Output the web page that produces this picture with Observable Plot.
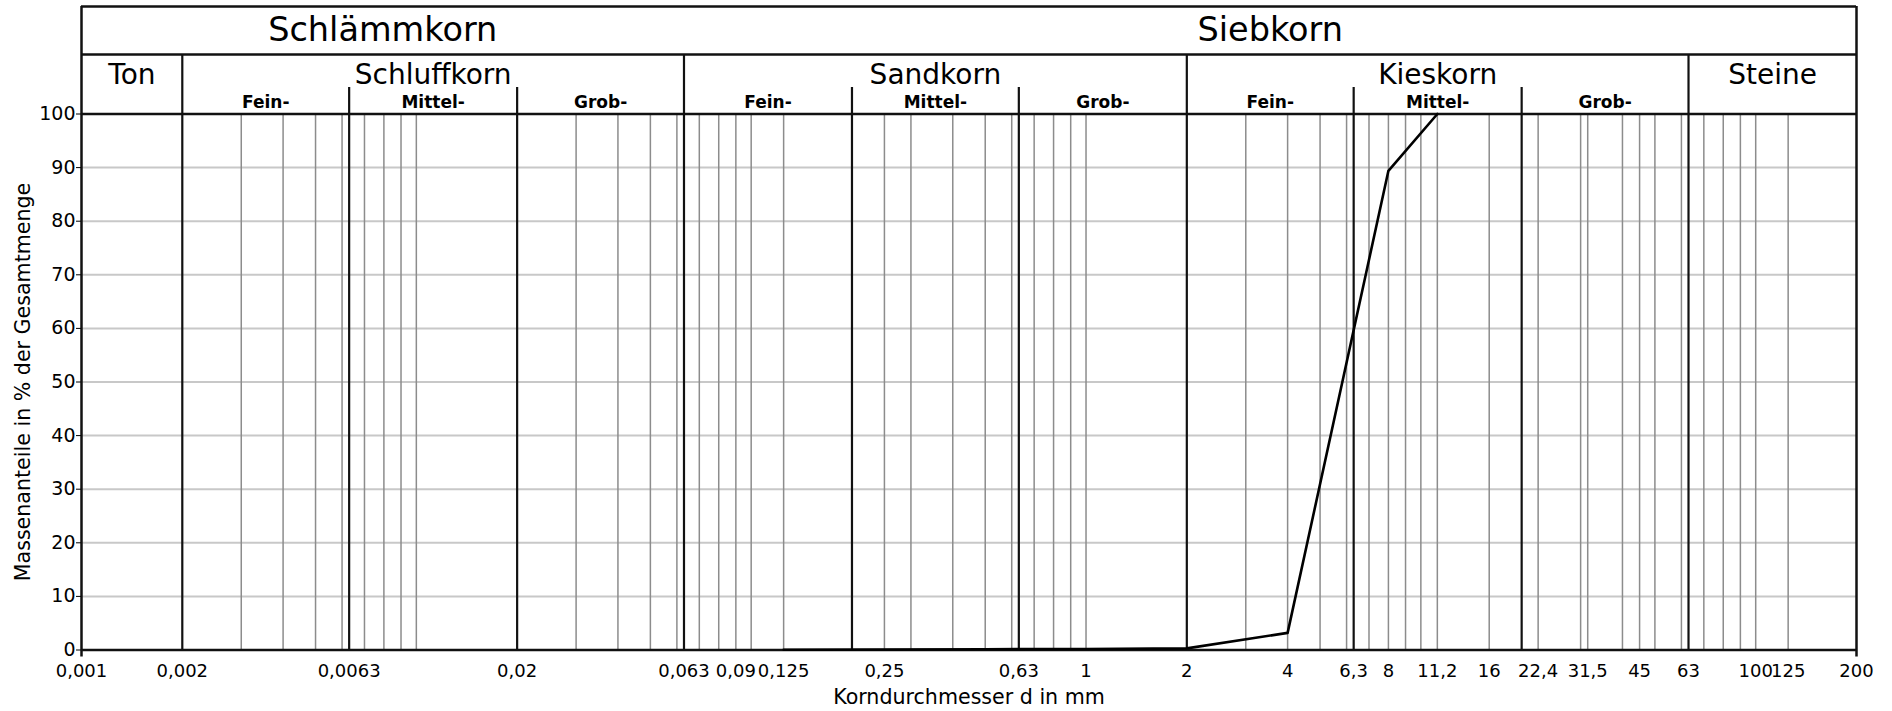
<!DOCTYPE html>
<html>
<head>
<meta charset="utf-8">
<script src="https://cdn.jsdelivr.net/npm/d3@7"></script>
<script src="https://cdn.jsdelivr.net/npm/@observablehq/plot@0.6"></script>
<style>
  html, body { margin: 0; padding: 0; background: #fff; }
  svg { display: block; }
</style>
</head>
<body>
<div id="chart"></div>
<script>
// ---------- data ----------
// Sieve curve (Korndurchmesser in mm -> Massenanteil in %)
const curveSizes   = [0.125, 0.25, 0.5, 1, 2, 4, 8, 11.2];
const curvePassing = [0.05, 0.1, 0.15, 0.2, 0.3, 3.2, 89.4, 100];

// x tick values and their labels
const xTickValues = [0.001, 0.002, 0.0063, 0.02, 0.063, 0.09, 0.125, 0.25, 0.63, 1, 2, 4, 6.3, 8, 11.2, 16, 22.4, 31.5, 45, 63, 100, 125, 200];
const xTickLabels = ["0,001", "0,002", "0,0063", "0,02", "0,063", "0,09", "0,125", "0,25", "0,63", "1", "2", "4", "6,3", "8", "11,2", "16", "22,4", "31,5", "45", "63", "100", "125", "200"];

// y ticks
const yTickValues = [0, 10, 20, 30, 40, 50, 60, 70, 80, 90, 100];

// thin grey sieve lines
const sieveLines = [0.003, 0.004, 0.005, 0.006, 0.007, 0.008, 0.009, 0.01, 0.03, 0.04, 0.05, 0.06,
  0.07, 0.08, 0.09, 0.1, 0.125, 0.25, 0.3, 0.4, 0.5, 0.6, 0.7, 0.8, 0.9, 1,
  3, 4, 5, 6, 7, 8, 9, 10, 11.2, 16, 22.4, 30, 31.5, 40, 45, 50, 60, 70, 80, 90, 100, 125];

// header: groups, classes, sub classes
const groupNames = ["Schlämmkorn", "Siebkorn"];
const groupFrom  = [0.001, 0.063];
const groupTo    = [0.063, 200];

const classNames = ["Ton", "Schluffkorn", "Sandkorn", "Kieskorn", "Steine"];
const classFrom  = [0.001, 0.002, 0.063, 2, 63];
const classTo    = [0.002, 0.063, 2, 63, 200];

const subNames = ["Fein-", "Mittel-", "Grob-", "Fein-", "Mittel-", "Grob-", "Fein-", "Mittel-", "Grob-"];
const subFrom  = [0.002, 0.0063, 0.02, 0.063, 0.2, 0.63, 2, 6.3, 20];
const subTo    = [0.0063, 0.02, 0.063, 0.2, 0.63, 2, 6.3, 20, 63];

const xLabel = "Korndurchmesser d in mm";
const yLabel = "Massenanteile in % der Gesamtmenge";

// ---------- layout (in y-scale units above 100 for the header) ----------
const HEADER_TOP = 120.06;
const HEADER_DIV = 111.1;
const SUB_TOP    = 104.94;
const GROUP_Y    = 115.6;
const CLASS_BASE = 105.6;
const SUB_BASE   = 101.1;
const EDGE_LOW   = -1.3;

const FONT = "DejaVu Sans, Verdana, sans-serif";

const curve = curveSizes.map((s, i) => ({x: s, y: curvePassing[i]}));
const groups = groupNames.map((n, i) => ({name: n, x: Math.sqrt(groupFrom[i] * groupTo[i])}));
const classes = classNames.map((n, i) => ({name: n, x: Math.sqrt(classFrom[i] * classTo[i])}));
const subs = subNames.map((n, i) => ({name: n, x: Math.sqrt(subFrom[i] * subTo[i])}));
const xTicks = xTickValues.map((v, i) => ({x: v, label: xTickLabels[i]}));
const frameEdges = [classFrom[0], classTo[classTo.length - 1]];
const classBounds = classFrom.slice(1);
const subBounds = subFrom.filter(v => !classFrom.includes(v));
const xMin = frameEdges[0], xMax = frameEdges[1];

const chart = Plot.plot({
  width: 1892,
  height: 711,
  marginLeft: 81,
  marginRight: 36,
  marginTop: 113.5,
  marginBottom: 61.5,
  style: {fontFamily: FONT, background: "#fff", color: "#000"},
  x: {type: "log", domain: [xMin, xMax], axis: null},
  y: {domain: [0, 100]},
  marks: [
    // horizontal grid
    Plot.ruleY(yTickValues.filter(v => v > 0 && v < 100), {x1: xMin, x2: xMax, stroke: "#c8c8c8", strokeWidth: 2}),
    // grey sieve lines
    Plot.ruleX(sieveLines, {y1: 0, y2: 100, stroke: "#8c8c8c", strokeWidth: 1.5}),
    // sub class boundaries
    Plot.ruleX(subBounds, {y1: 0, y2: SUB_TOP, stroke: "#111", strokeWidth: 2.2}),
    // class boundaries
    Plot.ruleX(classBounds, {y1: 0, y2: HEADER_DIV, stroke: "#111", strokeWidth: 2.2}),
    // frame edges
    Plot.ruleX(frameEdges, {y1: EDGE_LOW, y2: HEADER_TOP, stroke: "#111", strokeWidth: 2.5}),
    // horizontal frame lines
    Plot.ruleY([0, 100, HEADER_DIV, HEADER_TOP], {x1: xMin, x2: xMax, stroke: "#111", strokeWidth: 2.5}),
    // x tick labels
    Plot.text(xTicks, {x: "x", text: "label", frameAnchor: "bottom", dy: 21, fontSize: 18, lineAnchor: "middle", textAnchor: "middle"}),
    // y axis
    Plot.axisY({ticks: yTickValues, tickSize: 5, tickPadding: 1, fontSize: 19, label: null}),
    Plot.text([xLabel], {frameAnchor: "bottom", text: d => d, dy: 47, fontSize: 20.6, lineAnchor: "middle", textAnchor: "middle"}),
    Plot.text([yLabel], {frameAnchor: "left", text: d => d, rotate: -90, dx: -58, fontSize: 20.6, lineAnchor: "middle", textAnchor: "middle"}),
    // header texts
    Plot.text(groups, {x: "x", y: GROUP_Y, text: "name", fontSize: 33.5, lineAnchor: "middle"}),
    Plot.text(classes, {x: "x", y: CLASS_BASE, text: "name", fontSize: 28, lineAnchor: "bottom"}),
    Plot.text(subs, {x: "x", y: SUB_BASE, text: "name", fontSize: 17, fontWeight: "bold", lineAnchor: "bottom"}),
    // curve
    Plot.line(curve, {x: "x", y: "y", stroke: "#000", strokeWidth: 2.6})
  ]
});
document.getElementById("chart").append(chart);
</script>
</body>
</html>
